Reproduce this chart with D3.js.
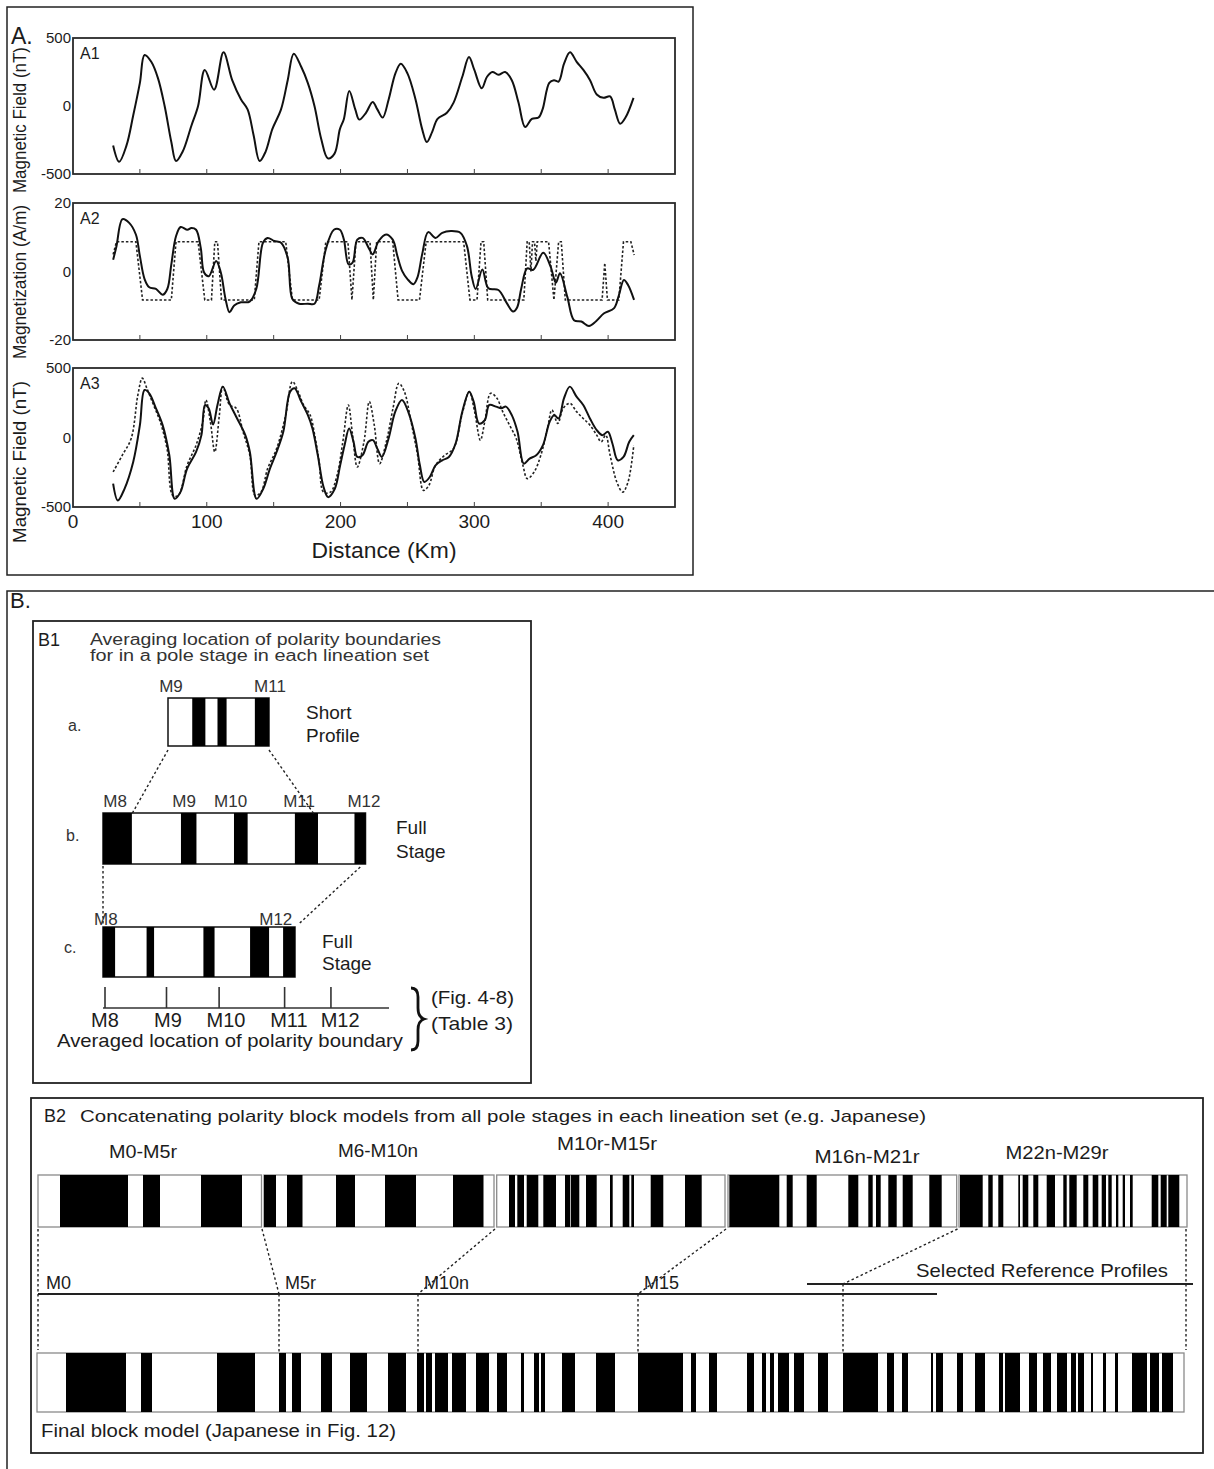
<!DOCTYPE html>
<html>
<head>
<meta charset="utf-8">
<script src="https://cdn.jsdelivr.net/npm/d3@7"></script>
<style>
  body { margin: 0; background: #fff; }
  svg { display: block; }
  text { font-family: "Liberation Sans", Arial, sans-serif; fill: #1c1c1c; }
</style>
</head>
<body>
<svg id="fig" width="1214" height="1469"></svg>
<script>
// === Panel A data: [distance km, value] ===
const a1Observed = [[30,-290],[34.5,-410],[40,-290],[45,-70],[50,170],[53.5,375],[58.5,325],[63.5,205],[68.5,0],[73.5,-265],[77,-405],[82,-335],[88.5,-145],[93.5,0],[98.5,265],[105.5,120],[112.5,395],[119,190],[125.5,50],[130.5,-25],[135,-215],[139.5,-405],[144,-335],[149,-170],[155.5,-25],[160.5,190],[165,385],[170.5,290],[175.5,170],[180.5,0],[185.5,-240],[190.5,-385],[195.5,-350],[199.5,-170],[202.5,-95],[206.5,110],[211,-25],[214,-100],[219,-50],[224,30],[227.5,-25],[231.5,-85],[236,50],[241,240],[245,310],[250,240],[256,50],[261,-170],[264.5,-265],[268.5,-190],[272.5,-95],[279.5,-50],[284.5,25],[291,215],[296,360],[300,265],[305.5,130],[309.5,215],[313.5,250],[318,230],[323,250],[328,190],[333,25],[338,-155],[343,-95],[348,-85],[351,-25],[356,170],[359.5,190],[363,180],[367,310],[371.5,395],[376.5,325],[381.5,265],[386.5,190],[391.5,85],[396.5,60],[401.5,70],[405,-25],[409,-130],[413,-85],[419,60]];

const a2Magnetization = [[30,3.4],[32.5,7.4],[37,15.3],[42,14.2],[47,10.8],[50,4.5],[53.5,-2.2],[57,-4.6],[62,-5.1],[67,-6.8],[70.5,-5.1],[73.5,2.1],[77,10.3],[80.5,13],[85.5,12.2],[88.5,12.7],[92,12.2],[95.5,6.9],[98,-0.3],[101.5,-1.4],[107,3.1],[110.5,-0.3],[114,-8],[117,-11.9],[120.5,-9.9],[125.5,-9],[132,-8.8],[137,-5.1],[142,8.4],[145.5,9.8],[150.5,8.9],[155.5,8.4],[160.5,4],[164,-8],[169,-9.4],[175.5,-9.4],[180.5,-9.4],[184,-4.1],[189,6.5],[195,12.2],[199.5,12.2],[202.5,9.3],[206,2.1],[209,2.6],[212.5,9.3],[216.5,9.8],[221,6.9],[224,5],[228.5,8.9],[234,10.8],[239,9.3],[242.5,4.5],[246,0.2],[250,-2.2],[254.5,-3.7],[257.5,-1.7],[261,5],[265.5,11.5],[271,9.8],[276,11.3],[282.5,11.8],[289.5,11.3],[294.5,7.4],[298,-1.3],[301,-5.1],[306,0.6],[310.5,-4.9],[318,-5.4],[324.5,-9.4],[329,-11.7],[332,-10.5],[335,-5.1],[339.5,0.9],[344,0.5],[351.5,5.5],[357,1.4],[361,-3.3],[364,-0.5],[369.5,-7.4],[374.5,-14.2],[380,-14.6],[385.7,-15.9],[391,-14.5],[397,-12.2],[404.5,-10.7],[408,-7],[411.8,-2.5],[415,-4],[419.4,-8.3]];

const a2BlockModel = [[30,5],[32.5,8.7],[47,8.7],[52,-8.3],[73.5,-8.3],[77,8.7],[93.5,8.7],[98.5,-8.3],[103.5,-8.3],[106,8.7],[108,8.7],[111,-8.3],[135.5,-8.3],[139,8.7],[159,8.7],[164,-8.3],[184,-8.3],[189,8.7],[205.5,8.7],[208.5,-8.3],[211.5,8.7],[222,8.7],[224.5,-8.3],[227,8.7],[239,8.7],[243,-8.3],[259,-8.3],[264,8.7],[292,8.7],[296.7,-8.3],[302,-8.3],[305,8.7],[307,8.7],[310,-8.3],[337,-8.3],[339.5,8.7],[341,8.7],[342.3,0],[343.5,8.7],[345,8.7],[346,3],[347,8.7],[355.5,8.7],[359.5,-8.3],[363,8.7],[365,8.7],[368,-8.3],[395.5,-8.3],[397.5,2.5],[399.5,-8.3],[408,-8.3],[411.5,8.7],[417,8.7],[419.5,4.8]];

const a3Observed = [[30,-332],[33.5,-453],[38.5,-369],[45,-176],[50,89],[53.5,342],[57,318],[62,210],[67,89],[72,-128],[76,-441],[80.3,-393],[85.3,-224],[92,-104],[96,17],[98.7,234],[101.4,210],[104.7,94],[108,234],[112,366],[117,246],[122,149],[128.8,17],[132.2,-104],[137.2,-441],[142.2,-369],[147.2,-224],[152.2,-104],[157.2,41],[162.3,330],[165.6,354],[170.6,258],[175.6,161],[179,65],[183,-128],[187.3,-357],[190.7,-429],[195.7,-369],[199.7,-200],[203,-55],[206.4,65],[209.7,-31],[212.5,-140],[216.4,-128],[220.8,-31],[224.2,-19],[227.5,-80],[230.9,-140],[235.9,-7],[240.9,186],[245.9,270],[251,174],[256,-7],[259.3,-200],[262.6,-320],[266.7,-284],[271,-200],[276,-164],[281,-140],[286,-43],[291,186],[296.2,330],[299.5,258],[303.5,101],[307.8,125],[311.2,234],[316.2,222],[320.2,210],[323.6,222],[328,161],[332.3,41],[337,-188],[341.3,-152],[346.3,-128],[351.3,-55],[356.3,113],[359.7,161],[363,137],[367,282],[371.4,366],[376.4,294],[381.4,234],[386.4,137],[391.5,53],[395.8,17],[399.8,41],[403.2,-43],[407.2,-164],[411.5,-140],[415.8,-31],[419.2,17]];

const a3Calculated = [[30,-248],[36.8,-128],[43.5,-7],[48.5,306],[51.8,427],[55.2,354],[60.2,234],[65.2,113],[70.3,-80],[74.6,-417],[78.7,-417],[85.3,-200],[92,-55],[97,113],[99.4,270],[102.7,113],[106,-104],[109.4,161],[112,366],[117,234],[122,210],[127.1,41],[132.2,-128],[136.2,-417],[140.5,-393],[145.5,-224],[152.2,-80],[159,161],[164,402],[168.3,330],[172.3,234],[177.3,161],[180.7,17],[184,-176],[187.3,-393],[192.4,-393],[197.4,-272],[201.7,-31],[205.8,234],[209,17],[212.5,-212],[217.5,-31],[221.5,258],[225.2,89],[229.2,-188],[234.2,-31],[239.2,210],[243.6,390],[247.7,330],[252.7,113],[257.6,-128],[262,-381],[266,-345],[271,-200],[277.8,-128],[284.4,-80],[291,174],[296.2,330],[300.2,186],[304.5,-19],[307.8,113],[312.2,318],[316.9,282],[321.2,186],[326.3,89],[331.3,-7],[336.3,-200],[339.6,-296],[344.7,-248],[349.7,-128],[354.7,65],[358,198],[362.4,101],[366.4,210],[371.4,246],[376.4,186],[381.4,137],[386.4,89],[391.5,17],[394.8,-31],[398.2,17],[401.5,-128],[406.5,-320],[410.9,-393],[414.9,-320],[419.2,-55]];

const distanceLabels = [0, 100, 200, 300, 400];
const distanceTicks = [50, 100, 150, 200, 250, 300, 350, 400];

// === Panel B1 data: reversed blocks as [from, to] in % of each profile ===
const shortProfile = [[24, 37], [49, 58], [86, 100]];
const shortLabels = [["M9", 3], ["M11", 101]];
const fullStageB = [[0, 11], [29.7, 35.6], [49.9, 55.1], [73.1, 81.9], [95.8, 100]];
const fullStageBLabels = [["M8", 4.6], ["M9", 30.9], ["M10", 48.6], ["M11", 74.7], ["M12", 99.4]];
const fullStageC = [[0, 6.3], [22.7, 26.6], [52.3, 58.1], [76.6, 86.5], [93.8, 100]];
const fullStageCLabels = [["M8", 1.5], ["M12", 90]];
const averagedTicks = [0.7, 22.2, 40.6, 63.5, 79.7];
const averagedLabels = [["M8", 0.7], ["M9", 22.7], ["M10", 43], ["M11", 65], ["M12", 82.9]];

// === Panel B2 data: positions along the model (arbitrary units) ===
const stageSegments = [[0, 223.5], [226, 456], [458.7, 687], [690, 918.7], [921, 1149]];
const stageNames = [["M0-M5r", 105, 1158, 68], ["M6-M10n", 340, 1157, 80], ["M10r-M15r", 569, 1150, 100], ["M16n-M21r", 829, 1163, 105], ["M22n-M29r", 1019, 1159, 103]];
const stageBlocks = [
  [22,90],[105,122],[163,204],
  [226,238],[249,264.5],[298,317],[347,378],[415,445.5],
  [471,477],[479.3,486],[488.7,500.3],[505.3,518],[527,532],[532.7,541.3],[548,558.7],[572,574.7],[584.7,591.3],[593.3,596],[612.7,625.3],[647,663.7],
  [691.3,741.3],[748.7,754.7],[768.7,778.7],[810.3,820.3],[830.3,834.7],[838,842.7],[850.3,858.7],[864.7,874.7],[891.3,903.7],
  [922,944.7],[950.3,954.7],[960.3,965.3],[980.3,982],[984.7,990.3],[995.3,1000.3],[1008.7,1017],[1025.3,1028.7],[1031.3,1038.7],[1045.3,1050.3],[1054.7,1060.3],[1063.7,1068],[1070.3,1073.7],[1078,1080.3],[1084.7,1087],[1092,1094.7],[1113.7,1120.3],[1122.7,1128.7],[1130.3,1141.3]
];
const finalBlocks = [
  [29,89],[104,115],[180,218],[242,249],[255,264],[284,295],[313,330],[351,369],[380,387],[389,395],[398,411],[415,429],[439,452],[460,470],[484,487],[497,502],[504,508],[525,538],[559,578],
  [601,646],[654,659],[672,680],[710,717],[725,729],[733,737],[741,752],[757,767],[781,791],
  [806,841],[850,857],[865,871],[894,896],[899,906],[920,926],[938,948],[962,966],[968,983],[992,1000],[1006,1014],[1020,1030],[1034,1039],[1041,1047],[1054,1056],[1066,1069],[1078,1081],[1095,1110],[1113,1122],[1125,1136]
];
// stage boundary on the top row -> matching boundary on the final model
const joins = [[0, 1, "M0"], [224, 242, "M5r"], [457, 381, "M10n"], [688, 601, "M15"], [919.5, 806, null], [1149, 1149, null]];

const svg = d3.select("#fig");

function txt(g, x, y, s, size, opt = {}) {
  const t = g.append("text").attr("x", x).attr("y", y).style("font-size", size + "px").text(s);
  if (opt.anchor) t.attr("text-anchor", opt.anchor);
  if (opt.len) t.attr("textLength", opt.len).attr("lengthAdjust", "spacingAndGlyphs");
  if (opt.fill) t.style("fill", opt.fill);
  return t;
}

// ================= Panel A =================
const gA = svg.append("g");
gA.append("rect").attr("x", 7).attr("y", 7).attr("width", 686).attr("height", 568)
  .attr("fill", "none").attr("stroke", "#222").attr("stroke-width", 1.5);
txt(gA, 11, 44, "A.", 23);

const x = d3.scaleLinear().domain([0, 450]).range([73, 675]);

const profiles = [
  { name: "A1", top: 38, bottom: 174, domain: [-500, 500], ticks: [500, 0, -500], title: "Magnetic Field (nT)", titleY: 120, titleLen: 146, solid: a1Observed, dashed: null, smoothDash: false },
  { name: "A2", top: 203, bottom: 340, domain: [-20, 20], ticks: [20, 0, -20], title: "Magnetization (A/m)", titleY: 282, titleLen: 154, solid: a2Magnetization, dashed: a2BlockModel, smoothDash: false },
  { name: "A3", top: 368, bottom: 507, domain: [-500, 500], ticks: [500, 0, -500], title: "Magnetic Field (nT)", titleY: 462, titleLen: 162, solid: a3Observed, dashed: a3Calculated, smoothDash: true }
];

profiles.forEach(p => {
  const y = d3.scaleLinear().domain(p.domain).range([p.bottom, p.top]);
  const g = gA.append("g");
  g.append("rect").attr("x", x(0)).attr("y", p.top).attr("width", x(450) - x(0)).attr("height", p.bottom - p.top)
    .attr("fill", "none").attr("stroke", "#2a2a2a").attr("stroke-width", 1.8);

  g.selectAll(".tick").data(distanceTicks).enter().append("line")
    .attr("x1", d => x(d)).attr("x2", d => x(d))
    .attr("y1", p.bottom).attr("y2", p.bottom - 5)
    .attr("stroke", "#444").attr("stroke-width", 1);

  g.selectAll(".ylab").data(p.ticks).enter().append("text")
    .attr("x", 71).attr("y", d => y(d) + 5).attr("text-anchor", "end")
    .style("font-size", "15px").text(d => d);

  txt(g, 80, p.top + 21, p.name, 16);

  txt(g, 0, 0, p.title, 18, { anchor: "middle", len: p.titleLen })
    .attr("transform", `translate(26,${p.titleY}) rotate(-90)`);

  if (p.dashed) {
    const dl = d3.line().x(d => x(d[0])).y(d => y(d[1]))
      .curve(p.smoothDash ? d3.curveCatmullRom.alpha(0.5) : d3.curveLinear);
    g.append("path").datum(p.dashed).attr("fill", "none").attr("stroke", "#222")
      .attr("stroke-width", 1.6).attr("stroke-dasharray", "2.5,2").attr("d", dl);
  }
  const sl = d3.line().x(d => x(d[0])).y(d => y(d[1])).curve(d3.curveCatmullRom.alpha(0.5));
  g.append("path").datum(p.solid).attr("fill", "none").attr("stroke", "#111")
    .attr("stroke-width", 2).attr("stroke-linejoin", "round").attr("d", sl);
});

gA.selectAll(".xlab").data(distanceLabels).enter().append("text")
  .attr("x", d => x(d)).attr("y", 528).attr("text-anchor", "middle")
  .style("font-size", "19px").text(d => d);
txt(gA, 384, 558, "Distance (Km)", 22, { anchor: "middle", len: 145 });

// ================= Panel B =================
const gB = svg.append("g");
gB.append("path").attr("d", "M1214,591H7V1469").attr("fill", "none").attr("stroke", "#222").attr("stroke-width", 1.5);
txt(gB, 10, 608, "B.", 22);

// ---- B1 ----
const g1 = gB.append("g");
g1.append("rect").attr("x", 33).attr("y", 621).attr("width", 498).attr("height", 462)
  .attr("fill", "none").attr("stroke", "#222").attr("stroke-width", 1.8);
txt(g1, 38, 646, "B1", 18);
txt(g1, 90, 645, "Averaging location of polarity boundaries", 16, { len: 351, fill: "#333" });
txt(g1, 90, 661, "for in a pole stage in each lineation set", 16, { len: 339, fill: "#333" });

function blockBar(g, scale, top, h, blocks, stroke, sw) {
  g.append("rect").attr("x", scale(0)).attr("y", top).attr("width", scale(100) - scale(0)).attr("height", h)
    .attr("fill", "#fff").attr("stroke", stroke).attr("stroke-width", sw);
  g.selectAll(null).data(blocks).enter().append("rect")
    .attr("x", d => scale(d[0])).attr("y", top).attr("width", d => scale(d[1]) - scale(d[0])).attr("height", h)
    .attr("fill", "#000");
}

const sa = d3.scaleLinear().domain([0, 100]).range([168, 269]);
const sb = d3.scaleLinear().domain([0, 100]).range([103, 365.5]);
const sc = d3.scaleLinear().domain([0, 100]).range([103, 295]);
const sAvg = d3.scaleLinear().domain([0, 100]).range([103, 389]);

// a. short profile
blockBar(g1, sa, 698, 48, shortProfile, "#111", 1.5);
g1.selectAll(null).data(shortLabels).enter().append("text")
  .attr("x", d => sa(d[1])).attr("y", 692).attr("text-anchor", "middle")
  .style("font-size", "17px").style("fill", "#333").text(d => d[0]);
txt(g1, 68, 731, "a.", 16, { fill: "#333" });
txt(g1, 306, 719, "Short", 19);
txt(g1, 306, 742, "Profile", 19);

// b. full stage
blockBar(g1, sb, 813, 51, fullStageB, "#111", 1.5);
g1.selectAll(null).data(fullStageBLabels).enter().append("text")
  .attr("x", d => sb(d[1])).attr("y", 807).attr("text-anchor", "middle")
  .style("font-size", "17px").style("fill", "#333").text(d => d[0]);
txt(g1, 66, 841, "b.", 16, { fill: "#333" });
txt(g1, 396, 834, "Full", 19);
txt(g1, 396, 858, "Stage", 19);

// c. full stage (rescaled)
blockBar(g1, sc, 927, 50, fullStageC, "#111", 1.5);
g1.selectAll(null).data(fullStageCLabels).enter().append("text")
  .attr("x", d => sc(d[1])).attr("y", 925).attr("text-anchor", "middle")
  .style("font-size", "17px").style("fill", "#333").text(d => d[0]);
txt(g1, 64, 953, "c.", 16, { fill: "#333" });
txt(g1, 322, 948, "Full", 19);
txt(g1, 322, 970, "Stage", 19);

// dotted guide lines between profiles
const dotted = (g, x1, y1, x2, y2) => g.append("line").attr("x1", x1).attr("y1", y1).attr("x2", x2).attr("y2", y2)
  .attr("stroke", "#222").attr("stroke-width", 1.4).attr("stroke-dasharray", "2.5,2.5");
dotted(g1, sa(0), 750, sb(11), 814);
dotted(g1, sa(100), 750, sb(80.4), 814);
dotted(g1, sb(0), 866, sc(0), 925);
dotted(g1, sb(98), 867, sc(102.5), 923);

// averaged boundary axis
g1.append("line").attr("x1", sAvg(0)).attr("x2", sAvg(100)).attr("y1", 1008).attr("y2", 1008)
  .attr("stroke", "#333").attr("stroke-width", 1.6);
g1.selectAll(null).data(averagedTicks).enter().append("line")
  .attr("x1", d => sAvg(d)).attr("x2", d => sAvg(d)).attr("y1", 987).attr("y2", 1008)
  .attr("stroke", "#333").attr("stroke-width", 1.6);
g1.selectAll(null).data(averagedLabels).enter().append("text")
  .attr("x", d => sAvg(d[1])).attr("y", 1027).attr("text-anchor", "middle")
  .style("font-size", "20px").text(d => d[0]);
txt(g1, 57, 1047, "Averaged location of polarity boundary", 19, { len: 346 });
g1.append("path")
  .attr("d", "M411,988 q7,0 7,9 v11 q0,9 6,11 q-6,2 -6,11 v11 q0,9 -7,9")
  .attr("fill", "none").attr("stroke", "#111").attr("stroke-width", 2.8);
txt(g1, 431, 1004, "(Fig. 4-8)", 19, { len: 83 });
txt(g1, 431, 1030, "(Table 3)", 19, { len: 82 });

// ---- B2 ----
const g2 = gB.append("g");
g2.append("rect").attr("x", 31).attr("y", 1098).attr("width", 1172).attr("height", 355)
  .attr("fill", "none").attr("stroke", "#222").attr("stroke-width", 1.8);
txt(g2, 44, 1122, "B2", 18);
txt(g2, 80, 1122, "Concatenating polarity block models from all pole stages in each lineation set (e.g. Japanese)", 17, { len: 846 });

const sTop = d3.scaleLinear().domain([0, 1149]).range([38, 1187]);
const sFinal = d3.scaleLinear().domain([0, 1147]).range([37, 1184]);

g2.selectAll(null).data(stageSegments).enter().append("rect")
  .attr("x", d => sTop(d[0])).attr("y", 1175).attr("width", d => sTop(d[1]) - sTop(d[0])).attr("height", 52)
  .attr("fill", "#fff").attr("stroke", "#8a8a8a").attr("stroke-width", 1.3);
g2.selectAll(null).data(stageBlocks).enter().append("rect")
  .attr("x", d => sTop(d[0])).attr("y", 1175).attr("width", d => sTop(d[1]) - sTop(d[0])).attr("height", 52)
  .attr("fill", "#000");
g2.selectAll(null).data(stageNames).enter().append("text")
  .attr("x", d => sTop(d[1])).attr("y", d => d[2]).attr("text-anchor", "middle")
  .attr("textLength", d => d[3]).attr("lengthAdjust", "spacingAndGlyphs")
  .style("font-size", "19px").text(d => d[0]);

// final model row
g2.append("rect").attr("x", sFinal(0)).attr("y", 1353).attr("width", sFinal(1147) - sFinal(0)).attr("height", 59)
  .attr("fill", "#fff").attr("stroke", "#8a8a8a").attr("stroke-width", 1.3);
g2.selectAll(null).data(finalBlocks).enter().append("rect")
  .attr("x", d => sFinal(d[0])).attr("y", 1353).attr("width", d => sFinal(d[1]) - sFinal(d[0])).attr("height", 59)
  .attr("fill", "#000");

// stage ranges lines
g2.append("line").attr("x1", sFinal(1)).attr("x2", sFinal(900)).attr("y1", 1294).attr("y2", 1294)
  .attr("stroke", "#222").attr("stroke-width", 1.8);
g2.append("line").attr("x1", sFinal(770)).attr("x2", sFinal(1156)).attr("y1", 1284).attr("y2", 1284)
  .attr("stroke", "#222").attr("stroke-width", 1.8);
txt(g2, 916, 1277, "Selected Reference Profiles", 19, { len: 252 });

joins.forEach((j, i) => {
  const xt = sTop(j[0]), xf = sFinal(j[1]);
  const yLine = i === 4 ? 1284 : 1294;
  if (i === 0 || i === 5) {
    dotted(g2, xf, 1229, xf, 1350);
  } else {
    dotted(g2, xt, 1229, xf, yLine);
    dotted(g2, xf, yLine, xf, 1352);
  }
  if (j[2]) txt(g2, xf + (i === 0 ? 8 : 6), 1289, j[2], 18);
});

txt(g2, 41, 1437, "Final block model (Japanese in Fig. 12)", 18, { len: 355 });
</script>
</body>
</html>
